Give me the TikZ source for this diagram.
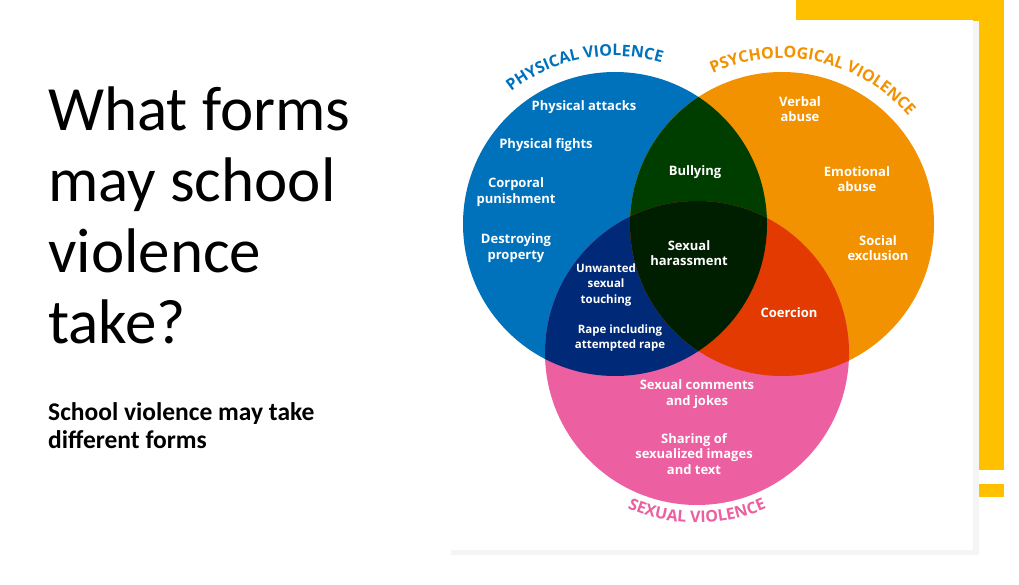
\documentclass[tikz,border=0pt]{standalone}
\usepackage{fontspec}
\setmainfont{Carlito}
\newfontfamily\lbl{Open Sans}
\usetikzlibrary{decorations.text}
\definecolor{pblue}{RGB}{0,114,188}
\definecolor{porange}{RGB}{243,146,0}
\definecolor{ppink}{RGB}{236,95,160}
\definecolor{pgreen}{RGB}{0,62,0}
\definecolor{pnavy}{RGB}{0,42,120}
\definecolor{pred}{RGB}{226,58,0}
\definecolor{pcore}{RGB}{0,30,0}
\definecolor{pyellow}{RGB}{255,192,0}
\tikzset{lab/.style={text=white,font=\lbl\bfseries\fontsize{13}{15.5}\selectfont,align=center,inner sep=0pt}}
\begin{document}
\begin{tikzpicture}[x=1pt,y=1pt]
\useasboundingbox (0,0) rectangle (1019,584);
\fill[white] (0,0) rectangle (1019,584);
% yellow decorations
\fill[pyellow] (796,584) rectangle (1004,114);
\fill[pyellow] (960,100) rectangle (1004,87);
% panel with shadow
\fill[black!8] (453,31) rectangle (977,562);
\fill[black!4] (451,29) rectangle (979,563);
\fill[white] (450,34) rectangle (973,564);
\coordinate (B) at (615,360);
\coordinate (O) at (782,360);
\coordinate (P) at (697,231);
\def\R{152}
\fill[pblue] (B) circle (\R);
\fill[porange] (O) circle (\R);
\fill[ppink] (P) circle (\R);
\begin{scope}\clip (B) circle (\R); \fill[pgreen] (O) circle (\R); \fill[pnavy] (P) circle (\R);\end{scope}
\begin{scope}\clip (O) circle (\R); \fill[pred] (P) circle (\R);\end{scope}
\begin{scope}\clip (B) circle (\R); \clip (O) circle (\R); \fill[pcore] (P) circle (\R);\end{scope}
% curved titles
\path[decorate,decoration={text along path,text align=center,text={|\lbl\bfseries\fontsize{16}{16}\selectfont\color{pblue}|PHYSICAL VIOLENCE}}]
  ([shift={(140:168)}]B) arc[start angle=140,end angle=62,radius=168];
\path[decorate,decoration={text along path,text align=center,text={|\lbl\bfseries\fontsize{16}{16}\selectfont\color{porange}|PSYCHOLOGICAL VIOLENCE}}]
  ([shift={(127:166)}]O) arc[start angle=127,end angle=28,radius=166];
\path[decorate,decoration={text along path,text align=center,text={|\lbl\bfseries\fontsize{16}{16}\selectfont\color{ppink}|SEXUAL VIOLENCE}}]
  ([shift={(237:170)}]P) arc[start angle=237,end angle=303,radius=170];
% labels
\node[lab] (a1) at (584,477) {Physical attacks};
\node[lab] (a2) at (546,439) {Physical fights};
\node[lab] (a3) at (516,392) {Corporal\\punishment};
\node[lab] (a4) at (516,336) {Destroying\\property};
\node[lab] (b1) at (695,412) {Bullying};
\node[lab] (c1) at (689,331) {Sexual\\harassment};
\node[lab,font=\lbl\bfseries\fontsize{11.5}{15.5}\selectfont] (d1) at (606,299) {Unwanted\\sexual\\touching};
\node[lab,font=\lbl\bfseries\fontsize{11.5}{15.5}\selectfont] (d2) at (620,246) {Rape including\\attempted rape};
\node[lab] (e1) at (800,475) {Verbal\\abuse};
\node[lab] (e2) at (857,405) {Emotional\\abuse};
\node[lab] (e3) at (878,336) {Social\\exclusion};
\node[lab] (f1) at (789,271) {Coercion};
\node[lab] (g1) at (697,190) {Sexual comments\\and jokes};
\node[lab] (g2) at (694,130) {Sharing of\\sexualized images\\and text};
% left text
\node[anchor=north west,align=left,inner sep=0pt,font=\fontsize{63}{71}\selectfont] (t) at (48,497) {What forms\\may school\\violence\\take?};
\node[anchor=north west,align=left,inner sep=0pt,font=\bfseries\fontsize{25.5}{28}\selectfont] (s) at (48,182) {School violence may take\\different forms};
\end{tikzpicture}
\end{document}
